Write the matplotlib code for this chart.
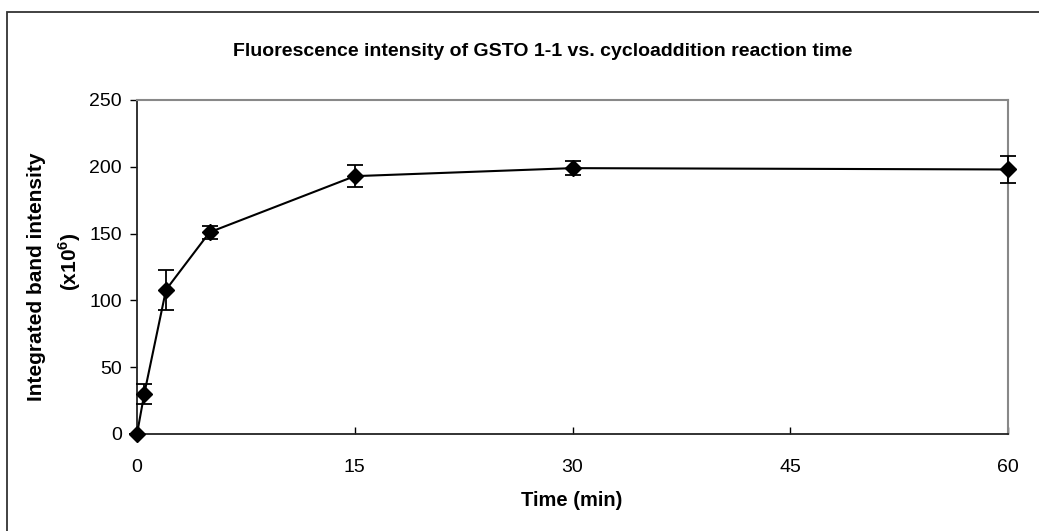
import matplotlib
matplotlib.use("Agg")
import matplotlib.pyplot as plt
from matplotlib.patches import Rectangle

plt.rcParams['font.family'] = ['Liberation Sans', 'DejaVu Sans']
plt.rcParams['mathtext.fontset'] = 'custom'
plt.rcParams['mathtext.rm'] = 'Liberation Sans:bold'
plt.rcParams['mathtext.bf'] = 'Liberation Sans:bold'

time_min = [0, 0.5, 2, 5, 15, 30, 60]
intensity = [0, 30, 108, 151, 193, 199, 198]
err = [0, 7.5, 15, 5, 8, 5.5, 10]
xticks = [0, 15, 30, 45, 60]
yticks = [0, 50, 100, 150, 200, 250]

W, H = 1039, 531
fig = plt.figure(figsize=(W/100, H/100), dpi=100)
ax = fig.add_axes([137/W, 1-434/H, (1008-137)/W, (434-100)/H])

ax.errorbar(time_min, intensity, yerr=err, color='black', lw=1.5,
            marker='D', markersize=8, capsize=5.5, capthick=1.3, elinewidth=1.3,
            clip_on=False, zorder=3)

ax.set_xlim(0, 60)
ax.set_ylim(0, 250)
ax.set_xticks(xticks)
ax.set_yticks(yticks)
ax.tick_params(axis='y', direction='out', length=5, width=1, labelsize=14, pad=6)
ax.tick_params(axis='x', direction='in', length=5, width=1, labelsize=14, pad=18)

for s in ['left', 'bottom']:
    ax.spines[s].set_color('#222222')
    ax.spines[s].set_linewidth(1.3)
for s in ['top', 'right']:
    ax.spines[s].set_color('#888888')
    ax.spines[s].set_linewidth(1.5)

fig.text(572/W, 1-500/H, 'Time (min)', ha='center', va='center',
         fontsize=14.5, fontweight='bold')
fig.text(37/W, 1-277/H, 'Integrated band intensity', ha='center', va='center',
         rotation=90, fontsize=15, fontweight='bold')
fig.text(70/W, 1-262/H, '(x10$^{\\mathbf{6}}$)', ha='center', va='center',
         rotation=90, fontsize=15, fontweight='bold')
fig.text(543/W, 1-52/H, 'Fluorescence intensity of GSTO 1-1 vs. cycloaddition reaction time',
         ha='center', va='center', fontsize=14, fontweight='bold')

fig.patches.append(Rectangle((7/W, -0.1), 2, (1-12/H)+0.1, transform=fig.transFigure,
                             fill=False, edgecolor='#333333', lw=1.3))

fig.savefig('out.png', dpi=100)
